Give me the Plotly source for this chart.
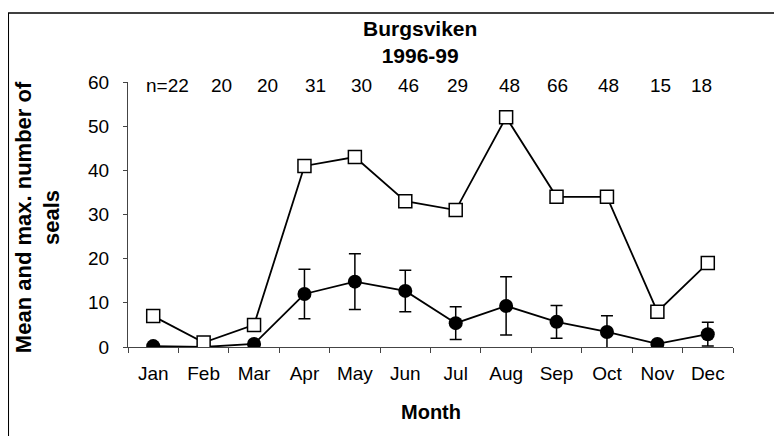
import plotly.graph_objects as go

months = ["Jan", "Feb", "Mar", "Apr", "May", "Jun", "Jul", "Aug", "Sep", "Oct", "Nov", "Dec"]
max_seals = [7, 1, 5, 41, 43, 33, 31, 52, 34, 34, 8, 19]
mean_seals = [0.2, 0, 0.7, 12.0, 14.8, 12.7, 5.4, 9.3, 5.7, 3.4, 0.7, 2.9]
mean_err = [0.3, 0, 0.5, 5.6, 6.3, 4.7, 3.7, 6.6, 3.7, 3.7, 0.4, 2.7]
n_counts = [22, 20, 20, 31, 30, 46, 29, 48, 66, 48, 15, 18]

# small pixel nudges so the n= row sits like the original
n_nudge = [14, 18, 13, 11, 7, 3, 2, 3, 1, 2, 3, -6]

FONT = "Arial, Liberation Sans, sans-serif"

fig = go.Figure()

fig.add_trace(go.Scatter(
    x=months, y=mean_seals, mode="lines+markers",
    line=dict(color="black", width=1.8),
    marker=dict(symbol="circle", size=14, color="black"),
    error_y=dict(type="data", array=mean_err, visible=True,
                 color="black", thickness=1.5, width=6),
    showlegend=False,
))

fig.add_trace(go.Scatter(
    x=months, y=max_seals, mode="lines+markers",
    line=dict(color="black", width=1.8),
    marker=dict(symbol="square", size=13, color="white",
                line=dict(color="black", width=1.5)),
    showlegend=False,
))

annotations = []
for i, (m, n) in enumerate(zip(months, n_counts)):
    annotations.append(dict(
        x=m, xref="x", y=0.985, yref="paper",
        text=("n=%d" % n) if i == 0 else str(n),
        showarrow=False, xanchor="center", yanchor="middle",
        xshift=n_nudge[i], font=dict(size=19, color="black", family=FONT),
    ))

annotations += [
    dict(x=0.483, y=1.151, xref="paper", yref="paper",
         text="<b>Burgsviken</b><br><b>1996-99</b>", showarrow=False,
         xanchor="center", yanchor="middle",
         font=dict(size=21, color="black", family=FONT)),
    dict(x=0.5, y=-0.245, xref="paper", yref="paper",
         text="<b>Month</b>", showarrow=False,
         xanchor="center", yanchor="middle",
         font=dict(size=20, color="black", family=FONT)),
    dict(x=-0.1488, y=0.49, xref="paper", yref="paper",
         text="<b>Mean and max. number of</b><br><b>seals</b>",
         showarrow=False, textangle=-90,
         xanchor="center", yanchor="middle",
         font=dict(size=22, color="black", family=FONT)),
]

# page body adds an 8px offset, so the figure is 8px smaller and margins shifted
fig.update_layout(
    width=774, height=428,
    margin=dict(l=120, r=49, t=74, b=89),
    paper_bgcolor="white", plot_bgcolor="white",
    font=dict(family=FONT, color="black", size=19),
    annotations=annotations,
    shapes=[
        # outer frame (cut off at right and bottom in the original)
        dict(type="line", xref="paper", yref="paper",
             x0=-0.1983, x1=-0.1983, y0=1.2604, y1=-0.4,
             line=dict(color="black", width=2)),
        dict(type="line", xref="paper", yref="paper",
             x0=-0.1983, x1=1.2, y0=1.2604, y1=1.2604,
             line=dict(color="black", width=1.5)),
    ],
)

fig.update_xaxes(
    type="category", tickson="boundaries", range=[-0.5, 11.5],
    showline=True, linecolor="#444", linewidth=1,
    ticks="outside", ticklen=5, tickcolor="#444",
    ticklabelstandoff=9,
    showgrid=False, zeroline=False,
    tickfont=dict(size=19, color="black"),
)
fig.update_yaxes(
    range=[0, 60], tickvals=[0, 10, 20, 30, 40, 50, 60],
    showline=True, linecolor="#444", linewidth=1,
    ticks="outside", ticklen=4, tickcolor="#444",
    ticklabelstandoff=10,
    showgrid=False, zeroline=False,
    tickfont=dict(size=19, color="black"),
)

fig.write_html("out.html")
